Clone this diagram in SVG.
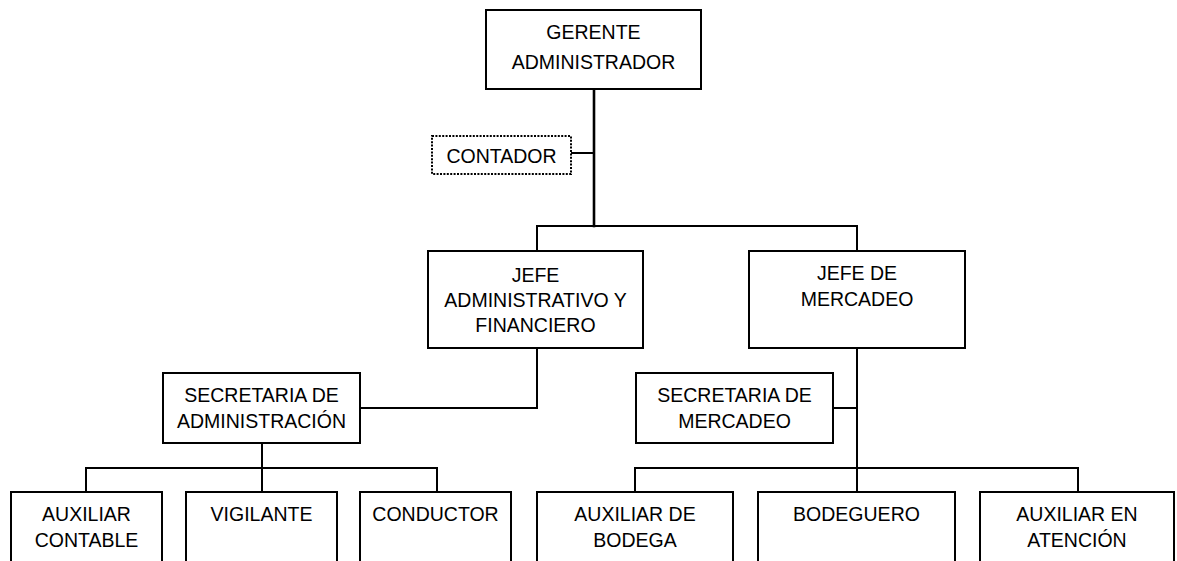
<svg xmlns="http://www.w3.org/2000/svg" width="1177" height="561" viewBox="0 0 1177 561">
  <style>
    .box { fill: #ffffff; stroke: #000000; stroke-width: 2; }
    .dotted { fill: #ffffff; stroke: #000000; stroke-width: 2; stroke-dasharray: 2 1.4; }
    .line { fill: none; stroke: #000000; stroke-width: 2; stroke-linecap: square; }
    .trunk { stroke-width: 2.6; }
    text { font-family: "Liberation Sans", Arial, sans-serif; font-size: 19.5px; fill: #000000; text-anchor: middle; }
  </style>
  <rect width="1177" height="561" fill="#ffffff"/>

  <!-- connectors -->
  <g id="connectors">
    <path class="line trunk" d="M594 89 V226"/>
    <path class="line" d="M571 153 H594"/>
    <path class="line" d="M537 251 V226 H857 V251"/>
    <path class="line" d="M537 348 V408 H360"/>
    <path class="line" d="M262 443 V468"/>
    <path class="line" d="M86 492 V468 H437 V492"/>
    <path class="line" d="M262 468 V492"/>
    <path class="line" d="M857 348 V492"/>
    <path class="line" d="M833 408 H857"/>
    <path class="line" d="M635 492 V468 H1078 V492"/>
  </g>

  <!-- top level -->
  <g id="gerente">
    <rect class="box" x="486" y="10" width="215" height="79"/>
    <text x="593.5" y="38.5">GERENTE</text>
    <text x="593.5" y="68.5">ADMINISTRADOR</text>
  </g>

  <g id="contador">
    <rect class="dotted" x="432" y="136" width="139" height="38"/>
    <text x="501.5" y="163">CONTADOR</text>
  </g>

  <!-- second level -->
  <g id="jefe-administrativo">
    <rect class="box" x="428" y="251" width="215" height="97"/>
    <text x="535.5" y="282">JEFE</text>
    <text x="535.5" y="307">ADMINISTRATIVO Y</text>
    <text x="535.5" y="332">FINANCIERO</text>
  </g>

  <g id="jefe-mercadeo">
    <rect class="box" x="749" y="251" width="216" height="97"/>
    <text x="857" y="280">JEFE DE</text>
    <text x="857" y="306">MERCADEO</text>
  </g>

  <!-- secretaries -->
  <g id="secretaria-administracion">
    <rect class="box" x="163" y="373" width="197" height="70"/>
    <text x="261.5" y="401.5">SECRETARIA DE</text>
    <text x="261.5" y="428">ADMINISTRACIÓN</text>
  </g>

  <g id="secretaria-mercadeo">
    <rect class="box" x="636" y="373" width="197" height="70"/>
    <text x="734.5" y="401.5">SECRETARIA DE</text>
    <text x="734.5" y="428">MERCADEO</text>
  </g>

  <!-- staff -->
  <g id="auxiliar-contable">
    <rect class="box" x="11" y="492" width="151" height="90"/>
    <text x="86.5" y="521">AUXILIAR</text>
    <text x="86.5" y="546.5">CONTABLE</text>
  </g>

  <g id="vigilante">
    <rect class="box" x="186" y="492" width="151" height="90"/>
    <text x="261.5" y="521">VIGILANTE</text>
  </g>

  <g id="conductor">
    <rect class="box" x="360" y="492" width="151" height="90"/>
    <text x="435.5" y="521">CONDUCTOR</text>
  </g>

  <g id="auxiliar-bodega">
    <rect class="box" x="537" y="492" width="196" height="90"/>
    <text x="635" y="521">AUXILIAR DE</text>
    <text x="635" y="546.5">BODEGA</text>
  </g>

  <g id="bodeguero">
    <rect class="box" x="758" y="492" width="197" height="90"/>
    <text x="856.5" y="521">BODEGUERO</text>
  </g>

  <g id="auxiliar-atencion">
    <rect class="box" x="980" y="492" width="194" height="90"/>
    <text x="1077" y="521">AUXILIAR EN</text>
    <text x="1077" y="546.5">ATENCIÓN</text>
  </g>
</svg>
